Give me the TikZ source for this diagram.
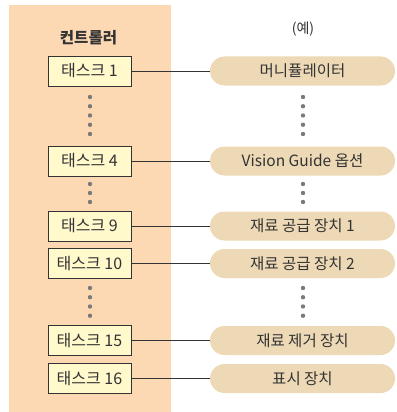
\documentclass[tikz,border=0pt]{standalone}
\usepackage{fontspec}
\setmainfont{Noto Sans CJK KR}
\definecolor{bgpeach}{HTML}{FDD9B3}
\definecolor{taskfill}{HTML}{FFF9CC}
\definecolor{devfill}{HTML}{EDD9B6}
\definecolor{inkgray}{HTML}{333333}
\definecolor{dotgray}{HTML}{7A7A7A}

\begin{document}
\begin{tikzpicture}[x=1pt,y=-1pt,
                    task/.style={draw=inkgray, fill=taskfill, line width=0.9pt,
                                 minimum width=83pt, minimum height=30pt, inner sep=0pt,
                                 text=inkgray, font=\fontsize{16}{18}\selectfont},
                    device/.style={fill=devfill, rounded corners=14.5pt,
                                   minimum width=185pt, minimum height=29pt, inner sep=0pt,
                                   text=inkgray, font=\fontsize{15.5}{18}\selectfont},
                    link/.style={draw=inkgray, line width=0.9pt}]
                    \useasboundingbox (0, 0) rectangle (396, 412);
                    % controller column
                    \fill[bgpeach] (9, 5) rectangle (171, 412);
                    \node[font=\bfseries\fontsize{15.5}{18}\selectfont, text=inkgray] (ctrl) at (88.5, 38) {컨트롤러};
                    \node[font=\fontsize{14}{16}\selectfont, text=inkgray] (ex) at (303, 29) {(예)};
                    % tasks
                    \node[task] (t1) at (89.5, 71) {태스크 1};
                    \node[task] (t4) at (89.5, 161) {태스크 4};
                    \node[task] (t9) at (89.5, 226) {태스크 9};
                    \node[task] (t10) at (89.5, 263.5) {태스크 10};
                    \node[task] (t15) at (89.5, 340.5) {태스크 15};
                    \node[task] (t16) at (89.5, 378.5) {태스크 16};
                    % devices
                    \node[device] (d1) at (302.5, 71) {머니퓰레이터};
                    \node[device] (d4) at (302.5, 161) {Vision Guide 옵션};
                    \node[device] (d9) at (302.5, 226) {재료 공급 장치 1};
                    \node[device] (d10) at (302.5, 263.5) {재료 공급 장치 2};
                    \node[device] (d15) at (302.5, 340.5) {재료 제거 장치};
                    \node[device] (d16) at (302.5, 378.5) {표시 장치};
                    % links
                    \foreach \n in {1, 4, 9, 10, 15, 16}
                        \draw[link] (t\n) -- (d\n);
                    % dots
                    \foreach \y in {97, 106.25, ..., 135}
                        {\fill[dotgray] (90, \y) circle (2.2pt);
                         \fill[dotgray] (303, \y) circle (2.2pt);}
                    \foreach \y in {184, 193, 202}
                        {\fill[dotgray] (90, \y) circle (2.2pt);
                         \fill[dotgray] (303, \y) circle (2.2pt);}
                    \foreach \y in {288, 297.25, ..., 317}
                        {\fill[dotgray] (90, \y) circle (2.2pt);
                         \fill[dotgray] (303, \y) circle (2.2pt);}
                \end{tikzpicture}
\end{document}
